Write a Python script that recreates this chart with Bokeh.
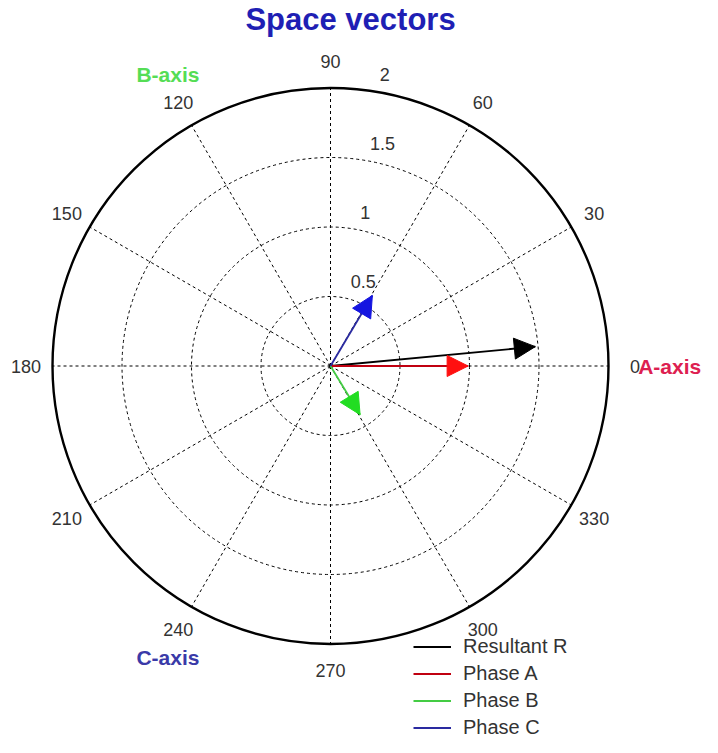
import numpy as np
from bokeh.plotting import figure
from bokeh.models import Range1d, Arrow, NormalHead, Legend, LegendItem
from bokeh.core.properties import value
from bokeh.embed import file_html
from bokeh.resources import INLINE

# ---- data ----
series = ["Resultant R", "Phase A", "Phase B", "Phase C"]
magnitudes = [1.48, 0.99, 0.41, 0.59]
angles_deg = [5.4, 0.0, -58.7, 59.3]
shaft_colors = ["#000000", "#c00010", "#44cc44", "#2a2aa0"]
head_colors = ["#000000", "#ff1010", "#22dd22", "#1515e0"]

ring_values = [0.5, 1.0, 1.5]
r_max = 2.0
ring_labels = ["0.5", "1", "1.5", "2"]
ring_label_values = [0.5, 1.0, 1.5, 2.0]
angle_ticks = [0, 30, 60, 90, 120, 150, 180, 210, 240, 270, 300, 330]
axis_names = ["A-axis", "B-axis", "C-axis"]
axis_angles = [0, 120, 240]
axis_colors = ["#dd2050", "#55dd55", "#3a3aa8"]

FONT_NAME = "Liberation Sans"
FONT = value(FONT_NAME)

W, H = 702, 737
scale = 139.0
cx, cy = 330.0, 365.5
p = figure(width=W, height=H, output_backend="svg", toolbar_location=None,
           x_range=Range1d(-cx / scale, (W - cx) / scale),
           y_range=Range1d(-(H - cy) / scale, cy / scale),
           min_border=0)
p.axis.visible = False
p.grid.visible = False
p.outline_line_color = None

# spokes
th = np.radians(angle_ticks)
p.segment(x0=0, y0=0, x1=r_max * np.cos(th), y1=r_max * np.sin(th),
          line_color="black", line_dash="3 3", line_width=1)
# rings
p.circle(x=[0] * len(ring_values), y=[0] * len(ring_values), radius=ring_values,
         fill_alpha=0, line_color="black", line_dash="3 3", line_width=1)
p.circle(x=[0], y=[0], radius=[r_max], fill_alpha=0, line_color="black", line_width=2.4)

# angle labels
p.text(x=2.19 * np.cos(th), y=2.19 * np.sin(th), text=[str(a) for a in angle_ticks],
       text_font=FONT, text_font_size="18px", text_color="#333333",
       text_align="center", text_baseline="middle")
# radial labels (MATLAB style: at 82 degrees, left aligned, slightly outside ring)
rl = np.array(ring_label_values) + 0.025
ra = np.radians(82)
p.text(x=rl * np.cos(ra), y=rl * np.sin(ra), text=ring_labels, x_offset=10, y_offset=-6,
       text_font=FONT, text_font_size="18px", text_color="#333333",
       text_align="left", text_baseline="bottom")

# axis names
aa = np.radians(axis_angles)
p.text(x=2.44 * np.cos(aa), y=2.42 * np.sin(aa), text=axis_names, x_offset=[0, 7, 7],
       text_font=FONT, text_font_size="21px", text_font_style="bold",
       text_color=axis_colors, text_align="center", text_baseline="middle")

# title
p.text(x=[20 / scale], y=[(cy - 19) / scale], text=["Space vectors"],
       text_font=FONT, text_font_size="31px", text_font_style="bold",
       text_color="#1f1fb4", text_align="center", text_baseline="middle")

# vectors
items = []
for name, m, a, sc, hc in zip(series, magnitudes, angles_deg, shaft_colors, head_colors):
    ar = np.radians(a)
    x1, y1 = m * np.cos(ar), m * np.sin(ar)
    r = p.segment(x0=[0], y0=[0], x1=[x1], y1=[y1], line_color=sc, line_width=1.8)
    p.add_layout(Arrow(x_start=0, y_start=0, x_end=x1, y_end=y1, line_alpha=0,
                       end=NormalHead(size=21, fill_color=hc, line_color=hc, line_width=1)))
    items.append(LegendItem(label=name, renderers=[r]))

legend = Legend(items=items, location=(413, -2), glyph_width=38, glyph_height=19,
                label_height=19, spacing=4, padding=0, margin=0,
                border_line_alpha=0, background_fill_alpha=0,
                label_text_font=FONT_NAME, label_text_font_size="20px",
                label_text_color="#333333", label_standoff=12)
p.add_layout(legend)

open("out.html", "w").write(file_html(p, INLINE))
